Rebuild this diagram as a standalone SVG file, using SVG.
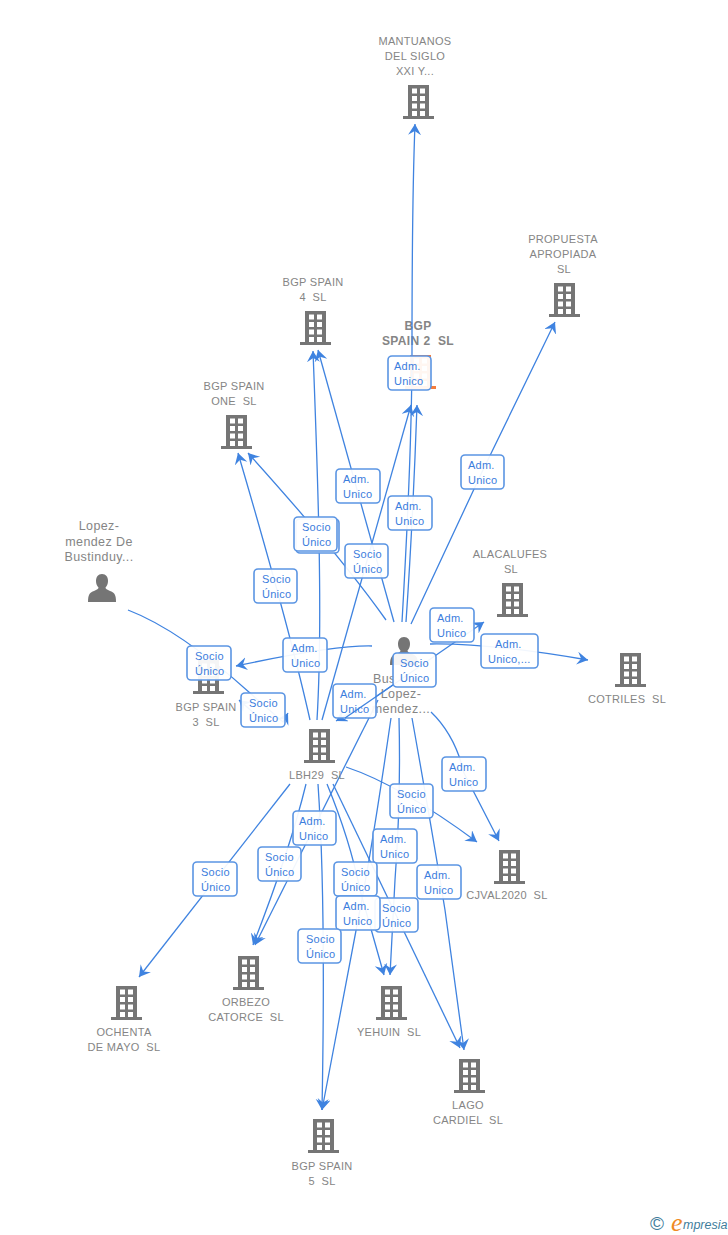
<svg xmlns="http://www.w3.org/2000/svg" width="728" height="1235" viewBox="0 0 728 1235">
<style>
text{font-family:"Liberation Sans",Arial,sans-serif;white-space:pre}
.n{font-size:11px;fill:#858585;text-anchor:middle;letter-spacing:.3px}
.p{font-size:12.5px;fill:#858585;text-anchor:middle;letter-spacing:.4px}
.m{font-size:12px;fill:#858585;text-anchor:middle;font-weight:bold;letter-spacing:.4px}
.l{font-size:11px;fill:#3b7ddd;letter-spacing:.25px}
.c path{fill:none;stroke:#3f83e0;stroke-width:1.3;marker-end:url(#a)}
.c path.e{marker-end:none}
.b{fill:#fff;fill-opacity:.93;stroke:#5b95e3;stroke-width:1.6}
.ic{fill:#757575}
.or{fill:#f47c3c}
</style>
<defs>
<marker id="a" markerUnits="userSpaceOnUse" markerWidth="13" markerHeight="14" refX="11" refY="6.500" orient="auto"><path d="M0 0L11 6.500L0 13L4 6.500Z" fill="#3f83e0" stroke="none"/></marker>
<path id="bd" fill-rule="evenodd" d="M5 0H26V31H31V34H0V31H5ZM9 3.5V8.5H14V3.5ZM17 3.5V8.5H22V3.5ZM9 11V16H14V11ZM17 11V16H22V11ZM9 18.500V23.500H14V18.500ZM17 18.500V23.500H22V18.500ZM9 26V31H14V26ZM17 26V31H22V26Z"/>
<path id="pr" d="M14 0C18 0 20 3 20 7C20 10 19 12 17.500 13.500C17.500 15 19 15.500 22 17C26 18.500 28 20 28 28H0C0 20 2 18.500 6 17C9 15.500 10.500 15 10.500 13.500C9 12 8 10 8 7C8 3 10 0 14 0Z"/>
</defs>

<g id="n-spain2">
<use href="#bd" class="or" x="405" y="355"/>
<text class="m"><tspan x="418" y="330">BGP</tspan><tspan x="418" y="345">SPAIN 2  SL</tspan></text>
</g>

<g id="connectors" class="c">
<path d="M362 706L336 721"/>
<path d="M402 622Q412 450 412 350Q412 200 415 124"/>
<path d="M406 622Q413 520 417 405"/>
<path d="M322 720L411 405"/>
<path d="M411 624Q455 530 482 472L555 322"/>
<path d="M394 622L318 350"/>
<path d="M317 720C323 620 318 480 313 351"/>
<path d="M386 620Q340 555 248 453"/>
<path d="M310 720Q290 630 238 453"/>
<path d="M372 646Q335 645 236 666"/>
<path d="M128 610Q180 630 250 693L283 722L288 713"/>
<path d="M262 720L239 700"/>
<path d="M345 718L484 622"/>
<path d="M378 700L255 945"/>
<path d="M430 644Q490 643 588 660"/>
<path d="M431 712Q455 735 464 773L499 841"/>
<path d="M346 767Q400 785 477 842"/>
<path d="M412 718Q432 830 445 910L464 1050"/>
<path d="M399 718Q401 800 395 880L390 975"/>
<path d="M391 718Q372 850 358 920L322 1110"/>
<path d="M327 784Q350 840 360 890L384 975"/>
<path d="M333 784L460 1048"/>
<path d="M318 784Q326 900 322 1110"/>
<path d="M306 784Q290 850 253 945"/>
<path d="M290 784L139 977"/>
</g>

<g id="n-mantuanos"><use href="#bd" class="ic" x="403" y="85"/><text class="n"><tspan x="415" y="45">MANTUANOS</tspan><tspan x="415" y="60">DEL SIGLO</tspan><tspan x="415" y="75">XXI Y...</tspan></text></g>
<g id="n-propuesta"><use href="#bd" class="ic" x="549" y="283"/><text class="n"><tspan x="563" y="243">PROPUESTA</tspan><tspan x="563" y="258">APROPIADA</tspan><tspan x="564" y="273">SL</tspan></text></g>
<g id="n-spain4"><use href="#bd" class="ic" x="300" y="311"/><text class="n"><tspan x="313" y="286">BGP SPAIN</tspan><tspan x="313" y="301">4  SL</tspan></text></g>
<g id="n-spainone"><use href="#bd" class="ic" x="221" y="415"/><text class="n"><tspan x="234" y="390">BGP SPAIN</tspan><tspan x="234" y="405">ONE  SL</tspan></text></g>
<g id="n-lopez"><use href="#pr" class="ic" x="88" y="574"/><text class="p"><tspan x="99" y="530">Lopez-</tspan><tspan x="99" y="546">mendez De</tspan><tspan x="99" y="561">Bustinduy...</tspan></text></g>
<g id="n-alacalufes"><use href="#bd" class="ic" x="497" y="583"/><text class="n"><tspan x="510" y="558">ALACALUFES</tspan><tspan x="511" y="573">SL</tspan></text></g>
<g id="n-cotriles"><use href="#bd" class="ic" x="615" y="653"/><text class="n" x="627" y="703">COTRILES  SL</text></g>
<g id="n-spain3"><use href="#bd" class="ic" x="193" y="660"/><text class="n"><tspan x="206" y="711">BGP SPAIN</tspan><tspan x="206" y="726">3  SL</tspan></text></g>
<g id="n-bustinduy"><use href="#pr" class="ic" x="390" y="637"/><text class="p"><tspan x="373" y="683" style="text-anchor:start">Bus</tspan><tspan x="401" y="698">Lopez-</tspan><tspan x="401" y="713">mendez...</tspan></text></g>
<g id="n-lbh29"><use href="#bd" class="ic" x="304" y="729"/><text class="n" x="317" y="779">LBH29  SL</text></g>
<g id="n-cjval"><use href="#bd" class="ic" x="494" y="850"/><text class="n" x="507" y="899">CJVAL2020  SL</text></g>
<g id="n-orbezo"><use href="#bd" class="ic" x="233" y="956"/><text class="n"><tspan x="246" y="1006">ORBEZO</tspan><tspan x="246" y="1021">CATORCE  SL</tspan></text></g>
<g id="n-ochenta"><use href="#bd" class="ic" x="111" y="986"/><text class="n"><tspan x="124" y="1036">OCHENTA</tspan><tspan x="124" y="1051">DE MAYO  SL</tspan></text></g>
<g id="n-yehuin"><use href="#bd" class="ic" x="376" y="986"/><text class="n" x="389" y="1036">YEHUIN  SL</text></g>
<g id="n-lago"><use href="#bd" class="ic" x="454" y="1059"/><text class="n"><tspan x="468" y="1109">LAGO</tspan><tspan x="468" y="1124">CARDIEL  SL</tspan></text></g>
<g id="n-spain5"><use href="#bd" class="ic" x="308" y="1119"/><text class="n"><tspan x="322" y="1170">BGP SPAIN</tspan><tspan x="322" y="1185">5  SL</tspan></text></g>

<g id="edge-labels">
<g><rect class="b" x="388" y="356" width="43" height="34" rx="4"/><text class="l"><tspan x="394" y="370">Adm.</tspan><tspan x="394" y="385">Unico</tspan></text></g>
<g><rect class="b" x="336" y="469" width="44" height="34" rx="4"/><text class="l"><tspan x="343" y="483">Adm.</tspan><tspan x="343" y="498">Unico</tspan></text></g>
<g><rect class="b" x="388" y="496" width="44" height="34" rx="4"/><text class="l"><tspan x="395" y="510">Adm.</tspan><tspan x="395" y="525">Unico</tspan></text></g>
<g><rect class="b" x="461" y="455" width="43" height="34" rx="4"/><text class="l"><tspan x="468" y="469">Adm.</tspan><tspan x="468" y="484">Unico</tspan></text></g>
<g><rect class="b" x="296" y="519" width="43" height="34" rx="4"/></g>
<g><rect class="b" x="294" y="517" width="43" height="34" rx="4"/><text class="l"><tspan x="302" y="531">Socio</tspan><tspan x="302" y="546">Único</tspan></text></g>
<g><rect class="b" x="345" y="544" width="43" height="34" rx="4"/><text class="l"><tspan x="353" y="558">Socio</tspan><tspan x="353" y="573">Único</tspan></text></g>
<g><rect class="b" x="254" y="569" width="43" height="34" rx="4"/><text class="l"><tspan x="262" y="583">Socio</tspan><tspan x="262" y="598">Único</tspan></text></g>
<g><rect class="b" x="430" y="608" width="44" height="34" rx="4"/><text class="l"><tspan x="437" y="622">Adm.</tspan><tspan x="437" y="637">Unico</tspan></text></g>
<g><rect class="b" x="481" y="634" width="57" height="34" rx="4"/><text class="l"><tspan x="495" y="648">Adm.</tspan><tspan x="488" y="663">Unico,...</tspan></text></g>
<g><rect class="b" x="283" y="638" width="44" height="34" rx="4"/><text class="l"><tspan x="291" y="652">Adm.</tspan><tspan x="291" y="667">Unico</tspan></text></g>
<g><rect class="b" x="187" y="646" width="44" height="34" rx="4"/><text class="l"><tspan x="195" y="660">Socio</tspan><tspan x="195" y="675">Único</tspan></text></g>
<g><rect class="b" x="333" y="684" width="43" height="34" rx="4"/><text class="l"><tspan x="340" y="698">Adm.</tspan><tspan x="340" y="713">Unico</tspan></text></g>
<g class="c"><path class="e" d="M393 685L345 718"/></g>
<g><rect class="b" x="393" y="653" width="43" height="34" rx="4"/><text class="l"><tspan x="400" y="667">Socio</tspan><tspan x="400" y="682">Único</tspan></text></g>
<g><rect class="b" x="241" y="693" width="44" height="34" rx="4"/><text class="l"><tspan x="249" y="707">Socio</tspan><tspan x="249" y="722">Único</tspan></text></g>
<g><rect class="b" x="442" y="757" width="44" height="34" rx="4"/><text class="l"><tspan x="449" y="771">Adm.</tspan><tspan x="449" y="786">Unico</tspan></text></g>
<g><rect class="b" x="390" y="784" width="43" height="34" rx="4"/><text class="l"><tspan x="397" y="798">Socio</tspan><tspan x="397" y="813">Único</tspan></text></g>
<g><rect class="b" x="293" y="811" width="43" height="34" rx="4"/><text class="l"><tspan x="299" y="825">Adm.</tspan><tspan x="299" y="840">Unico</tspan></text></g>
<g><rect class="b" x="373" y="829" width="44" height="34" rx="4"/><text class="l"><tspan x="380" y="843">Adm.</tspan><tspan x="380" y="858">Unico</tspan></text></g>
<g><rect class="b" x="258" y="847" width="43" height="34" rx="4"/><text class="l"><tspan x="265" y="861">Socio</tspan><tspan x="265" y="876">Único</tspan></text></g>
<g><rect class="b" x="193" y="862" width="44" height="34" rx="4"/><text class="l"><tspan x="201" y="876">Socio</tspan><tspan x="201" y="891">Único</tspan></text></g>
<g><rect class="b" x="334" y="862" width="43" height="34" rx="4"/><text class="l"><tspan x="341" y="876">Socio</tspan><tspan x="341" y="891">Único</tspan></text></g>
<g><rect class="b" x="417" y="865" width="44" height="34" rx="4"/><text class="l"><tspan x="424" y="879">Adm.</tspan><tspan x="424" y="894">Unico</tspan></text></g>
<g><rect class="b" x="375" y="898" width="43" height="34" rx="4"/><text class="l"><tspan x="382" y="912">Socio</tspan><tspan x="382" y="927">Único</tspan></text></g>
<g><rect class="b" x="336" y="896" width="44" height="34" rx="4"/><text class="l"><tspan x="343" y="910">Adm.</tspan><tspan x="343" y="925">Unico</tspan></text></g>
<g><rect class="b" x="298" y="929" width="43" height="34" rx="4"/><text class="l"><tspan x="306" y="943">Socio</tspan><tspan x="306" y="958">Único</tspan></text></g>
</g>

<g id="logo">
<text x="650" y="1230" style="font-size:19px;fill:#3f7d9c">©</text>
<text x="671" y="1231" style="font-family:'Liberation Serif',serif;font-style:italic;font-size:26px;fill:#f08a24">e</text>
<text x="683" y="1229" style="font-style:italic;font-size:12.5px;fill:#3f7d9c">mpresia</text>
</g>
</svg>
